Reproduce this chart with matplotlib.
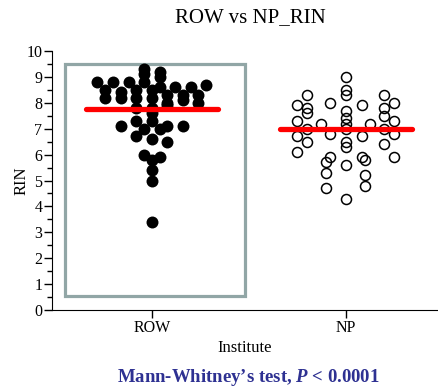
import numpy as np
import matplotlib
matplotlib.use("Agg")
import matplotlib.pyplot as plt
import matplotlib.patches as mpatches
from matplotlib.ticker import MultipleLocator

plt.rcParams["font.family"] = ["Liberation Serif", "DejaVu Serif"]
plt.rcParams["mathtext.fontset"] = "custom"
plt.rcParams["mathtext.it"] = "Liberation Serif:italic:bold"
plt.rcParams["mathtext.rm"] = "Liberation Serif:bold"

# data
groups = ["ROW", "NP"]
row_rin = [9.1, 9.3, 9.2, 8.8, 8.8, 8.8, 8.8, 9.0, 8.6, 8.6, 8.5, 8.6, 8.7, 8.4,
           8.5, 8.5, 8.2, 8.3, 8.3, 8.3, 8.2, 8.2, 8.2, 8.0, 8.1, 8.0, 7.8, 7.8,
           7.9, 7.6, 7.1, 7.0, 7.3, 7.3, 7.0, 7.1, 7.1, 6.7, 6.6, 6.5, 6.0, 5.8,
           5.9, 5.4, 5.0, 3.4]
np_rin = [8.3, 7.9, 7.3, 7.0, 6.7, 6.1, 5.7, 7.6, 9.0, 8.0, 7.8, 7.2, 6.8, 6.5,
          5.9, 5.3, 4.7, 8.3, 7.4, 7.0, 6.3, 7.7, 8.5, 7.8, 7.2, 6.5, 5.8, 5.2,
          4.3, 7.9, 7.2, 6.7, 5.9, 5.6, 4.8, 8.3, 7.5, 7.0, 6.4, 8.0, 7.3, 6.8,
          5.9]
group_means = [7.75, 7.0]   # red bars as drawn in the figure
y_ticks = list(range(0, 11))
title = "ROW vs NP_RIN"
test_note = "Mann-Whitney\u2019s test, $P$ < 0.0001"

BLUE = "#2e3192"
BOX_GRAY = "#91a6a6"


def swarm_offsets(vals, bin_h, max_step, half_width):
    """Spread points that share a value bin side by side."""
    vals = np.asarray(vals, dtype=float)
    bins = np.round(vals / bin_h).astype(int)
    offs = np.zeros(len(vals))
    for b in np.unique(bins):
        idx = np.where(bins == b)[0]
        k = len(idx)
        if k == 1:
            continue
        step = min(max_step, 2 * half_width / (k - 1))
        offs[idx] = (np.arange(k) - (k - 1) / 2) * step
    return offs


fig = plt.figure(figsize=(4.38, 3.92), dpi=100)
ax = fig.add_axes([0.119, 0.209, 0.881, 0.661])

xpos = np.arange(1, len(groups) + 1)

# highlight box round the ROW group
ax.add_patch(mpatches.Rectangle((xpos[0] - 0.45, 0.54), 0.93, 8.96,
                                fill=False, edgecolor=BOX_GRAY, linewidth=2.3,
                                zorder=1))

row_off = swarm_offsets(row_rin, 0.3, 0.08, 0.3)
np_off = swarm_offsets(np_rin, 0.25, 0.2, 0.25)

ax.plot(xpos[0] + row_off, row_rin, "o", color="black", markersize=8.6,
        markeredgewidth=0, zorder=3, clip_on=False)
ax.plot(xpos[1] + np_off, np_rin, "o", markerfacecolor="none",
        markeredgecolor="black", markersize=7.2, markeredgewidth=1.1,
        zorder=3, clip_on=False)

for x, m in zip(xpos, group_means):
    ax.plot([x - 0.34, x + 0.34], [m, m], color="red", linewidth=3.8,
            solid_capstyle="round", zorder=4)

ax.set_xlim(0.486, 2.476)
ax.set_ylim(0, 10)
ax.set_xticks(xpos)
ax.set_xticklabels(groups, fontsize=11.5)
ax.set_yticks(y_ticks)
ax.yaxis.set_minor_locator(MultipleLocator(0.5))
ax.tick_params(axis="y", labelsize=11.5, length=6, width=1, pad=1)
ax.tick_params(axis="y", which="minor", length=3.5, width=1)
ax.tick_params(axis="x", length=6, width=1, pad=1)
ax.spines["top"].set_visible(False)
ax.spines["right"].set_visible(False)
ax.set_ylabel("RIN", fontsize=12, labelpad=-2)
ax.set_xlabel("Institute", fontsize=12, labelpad=3)

fig.text(250 / 438, 1 - 18 / 392, title, fontsize=15, ha="center", va="center")
fig.text(248 / 438, 1 - 378 / 392, test_note, fontsize=13.5,
         fontweight="bold", color=BLUE, ha="center", va="center")

fig.savefig("out.png", dpi=100)
